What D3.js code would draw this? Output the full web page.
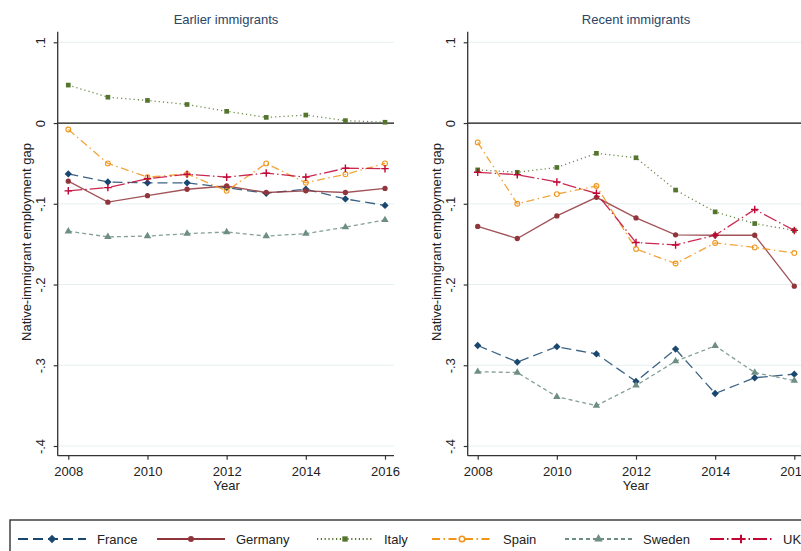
<!DOCTYPE html>
<html>
<head>
<meta charset="utf-8">
<script src="https://cdn.jsdelivr.net/npm/d3@7"></script>
<style>
  html, body { margin: 0; padding: 0; background: #ffffff; overflow: hidden; }
  svg { display: block; font-family: "Liberation Sans", Arial, sans-serif; }
</style>
</head>
<body>
<svg id="chart" width="801" height="551"></svg>
<script>
// Years observed
const years = [2008, 2009, 2010, 2011, 2012, 2013, 2014, 2015, 2016];

// Country series
const countries = ["France", "Germany", "Italy", "Spain", "Sweden", "UK"];

// Earlier immigrants: native-immigrant employment gap
const earlierFrance  = [-0.063, -0.073, -0.074, -0.074, -0.080, -0.087, -0.082, -0.094, -0.102];
const earlierGermany = [-0.072, -0.098, -0.090, -0.082, -0.078, -0.086, -0.084, -0.086, -0.081];
const earlierItaly   = [0.047, 0.032, 0.028, 0.023, 0.0145, 0.007, 0.0099, 0.003, 0.001];
const earlierSpain   = [-0.008, -0.050, -0.067, -0.063, -0.084, -0.050, -0.074, -0.0635, -0.050];
const earlierSweden  = [-0.134, -0.141, -0.140, -0.137, -0.135, -0.140, -0.137, -0.129, -0.120];
const earlierUK      = [-0.084, -0.080, -0.069, -0.0635, -0.067, -0.062, -0.067, -0.056, -0.0565];

// Recent immigrants: native-immigrant employment gap
const recentFrance  = [-0.2755, -0.296, -0.277, -0.286, -0.320, -0.280, -0.335, -0.3155, -0.311];
const recentGermany = [-0.128, -0.143, -0.115, -0.092, -0.1175, -0.1385, -0.139, -0.139, -0.202];
const recentItaly   = [-0.058, -0.061, -0.055, -0.0375, -0.043, -0.083, -0.110, -0.1245, -0.133];
const recentSpain   = [-0.024, -0.100, -0.088, -0.078, -0.156, -0.174, -0.1485, -0.154, -0.161];
const recentSweden  = [-0.308, -0.309, -0.339, -0.350, -0.325, -0.295, -0.276, -0.309, -0.319];
const recentUK      = [-0.061, -0.064, -0.073, -0.087, -0.148, -0.151, -0.139, -0.107, -0.133];

// Axis ticks and labels
const yTicks = [0.1, 0, -0.1, -0.2, -0.3, -0.4];
const yTickLabels = [".1", "0", "-.1", "-.2", "-.3", "-.4"];
const xTicks = [2008, 2010, 2012, 2014, 2016];

// Panel titles and axis titles
const panelTitles = ["Earlier immigrants", "Recent immigrants"];
const yTitle = "Native-immigrant employment gap";
const xTitle = "Year";

const panelSeries = [
  [earlierFrance, earlierGermany, earlierItaly, earlierSpain, earlierSweden, earlierUK],
  [recentFrance, recentGermany, recentItaly, recentSpain, recentSweden, recentUK]
];

// Styling for each country
const plusSymbol = {
  draw(ctx, size) {
    const r = Math.sqrt(size) / 2;
    ctx.moveTo(-r, 0); ctx.lineTo(r, 0);
    ctx.moveTo(0, -r); ctx.lineTo(0, r);
  }
};
const styles = {
  France:  { color: "#1a476f", dash: "10,5",          sym: d3.symbolDiamond2, size: 34, fill: true },
  Germany: { color: "#90353b", dash: null,            sym: d3.symbolCircle,   size: 22, fill: true },
  Italy:   { color: "#55752f", dash: "1.2,3",         sym: d3.symbolSquare,   size: 22, fill: true },
  Spain:   { color: "#f0951a", dash: "8,3.5,1.5,3.5", sym: d3.symbolCircle,   size: 18, fill: false },
  Sweden:  { color: "#6e8e84", dash: "4,3",           sym: d3.symbolTriangle, size: 24, fill: true },
  UK:      { color: "#c10534", dash: "14,3,1.5,3",    sym: plusSymbol,        size: 56, fill: false, plus: true }
};

const svg = d3.select("#chart");

// Panel geometry
const panels = [
  { axisX: 57.7, x0: 68.3, x1: 385.0, right: 394, title: 226, ytitleX: 26,  yLabX: 40 },
  { axisX: 467.7, x0: 477.7, x1: 794.3, right: 830, title: 636, ytitleX: 436, yLabX: 450 }
];
const plotTop = 31.7, plotBottom = 455.7;

const y = d3.scaleLinear().domain([0.1, -0.4]).range([42.3, 446]);

panels.forEach((p, pi) => {
  const x = d3.scaleLinear().domain([2008, 2016]).range([p.x0, p.x1]);
  const g = svg.append("g");

  // Horizontal grid lines
  g.append("g").selectAll("line")
    .data(yTicks.filter(t => t !== 0))
    .join("line")
    .attr("x1", p.axisX).attr("x2", p.right)
    .attr("y1", d => y(d)).attr("y2", d => y(d))
    .attr("stroke", "#e6f0f0").attr("stroke-width", 1);

  // Reference line at zero
  g.append("line")
    .attr("x1", p.axisX).attr("x2", p.right)
    .attr("y1", y(0)).attr("y2", y(0))
    .attr("stroke", "#111").attr("stroke-width", 1.3);

  // Y axis (rotated tick labels)
  const yAxis = d3.axisLeft(y).tickValues(yTicks).tickSize(4).tickSizeOuter(0)
    .tickFormat((d, i) => yTickLabels[i]);
  const ya = g.append("g").attr("transform", `translate(${p.axisX},0)`).call(yAxis);
  ya.select(".domain").remove();
  ya.selectAll(".tick line").attr("stroke", "#333").attr("stroke-width", 1.2);
  ya.selectAll(".tick text")
    .attr("transform", "rotate(-90)")
    .attr("x", 0).attr("y", -(p.axisX - p.yLabX) + 4.5).attr("dy", 0)
    .attr("text-anchor", "middle")
    .attr("font-size", 13).attr("fill", "#222")
    .attr("font-family", "Liberation Sans, Arial, sans-serif");
  g.append("line")
    .attr("x1", p.axisX).attr("x2", p.axisX)
    .attr("y1", plotTop).attr("y2", plotBottom)
    .attr("stroke", "#333").attr("stroke-width", 1.3);

  // X axis
  const xAxis = d3.axisBottom(x).tickValues(xTicks).tickSize(4).tickSizeOuter(0)
    .tickFormat(d3.format("d"));
  const xa = g.append("g").attr("transform", `translate(0,${plotBottom})`).call(xAxis);
  xa.select(".domain").remove();
  xa.selectAll(".tick line").attr("stroke", "#333").attr("stroke-width", 1.2);
  xa.selectAll(".tick text")
    .attr("y", 20.5).attr("dy", 0)
    .attr("font-size", 13).attr("fill", "#222")
    .attr("font-family", "Liberation Sans, Arial, sans-serif");
  g.append("line")
    .attr("x1", p.axisX).attr("x2", p.right)
    .attr("y1", plotBottom).attr("y2", plotBottom)
    .attr("stroke", "#333").attr("stroke-width", 1.3);

  // Titles
  g.append("text")
    .attr("x", p.title).attr("y", 24)
    .attr("text-anchor", "middle").attr("font-size", 13)
    .attr("fill", "#2b4566").text(panelTitles[pi]);
  g.append("text")
    .attr("transform", `translate(${p.ytitleX + 4.5},242) rotate(-90)`)
    .attr("text-anchor", "middle").attr("font-size", 13)
    .attr("fill", "#222").text(yTitle);
  g.append("text")
    .attr("x", x(2012)).attr("y", 490)
    .attr("text-anchor", "middle").attr("font-size", 13)
    .attr("fill", "#222").text(xTitle);

  // Series
  const line = d3.line().x((d, i) => x(years[i])).y(d => y(d));
  countries.forEach((c, ci) => {
    const s = styles[c];
    const vals = panelSeries[pi][ci];
    g.append("path")
      .datum(vals)
      .attr("d", line)
      .attr("fill", "none")
      .attr("stroke", s.color)
      .attr("stroke-width", 1.3)
      .attr("stroke-dasharray", s.dash)
      .attr("opacity", 0.85);
    g.append("g").selectAll("path")
      .data(vals)
      .join("path")
      .attr("transform", (d, i) => `translate(${x(years[i])},${y(d)})`)
      .attr("d", d3.symbol().type(s.sym).size(s.size))
      .attr("fill", s.fill ? s.color : "none")
      .attr("stroke", s.fill ? "none" : s.color)
      .attr("stroke-width", s.plus ? 1.4 : 1.1);
  });
});

// Legend
const legendKeyX = [18, 157, 317, 432, 565, 710];
const legendKeyW = [68, 68, 56, 60, 67, 62];
const legendY = 539;
const lg = svg.append("g");
lg.append("rect")
  .attr("x", 10).attr("y", 520).attr("width", 840).attr("height", 60)
  .attr("fill", "#fff").attr("stroke", "#333").attr("stroke-width", 1.4);
countries.forEach((c, ci) => {
  const s = styles[c];
  const x0 = legendKeyX[ci], w = legendKeyW[ci];
  lg.append("line")
    .attr("x1", x0).attr("x2", x0 + w)
    .attr("y1", legendY).attr("y2", legendY)
    .attr("stroke", s.color).attr("stroke-width", 2.2)
    .attr("stroke-dasharray", s.dash === "1.2,3" ? "1.2,2.6" : s.dash);
  lg.append("path")
    .attr("transform", `translate(${x0 + w / 2},${legendY})`)
    .attr("d", d3.symbol().type(s.sym).size(s.size * 1.3))
    .attr("fill", s.fill ? s.color : "#fff")
    .attr("stroke", s.fill ? "none" : s.color)
    .attr("stroke-width", s.plus ? 2 : 1.6);
  lg.append("text")
    .attr("x", x0 + w + 11).attr("y", legendY + 4.5)
    .attr("font-size", 13).attr("fill", "#222")
    .text(c);
});
</script>
</body>
</html>
